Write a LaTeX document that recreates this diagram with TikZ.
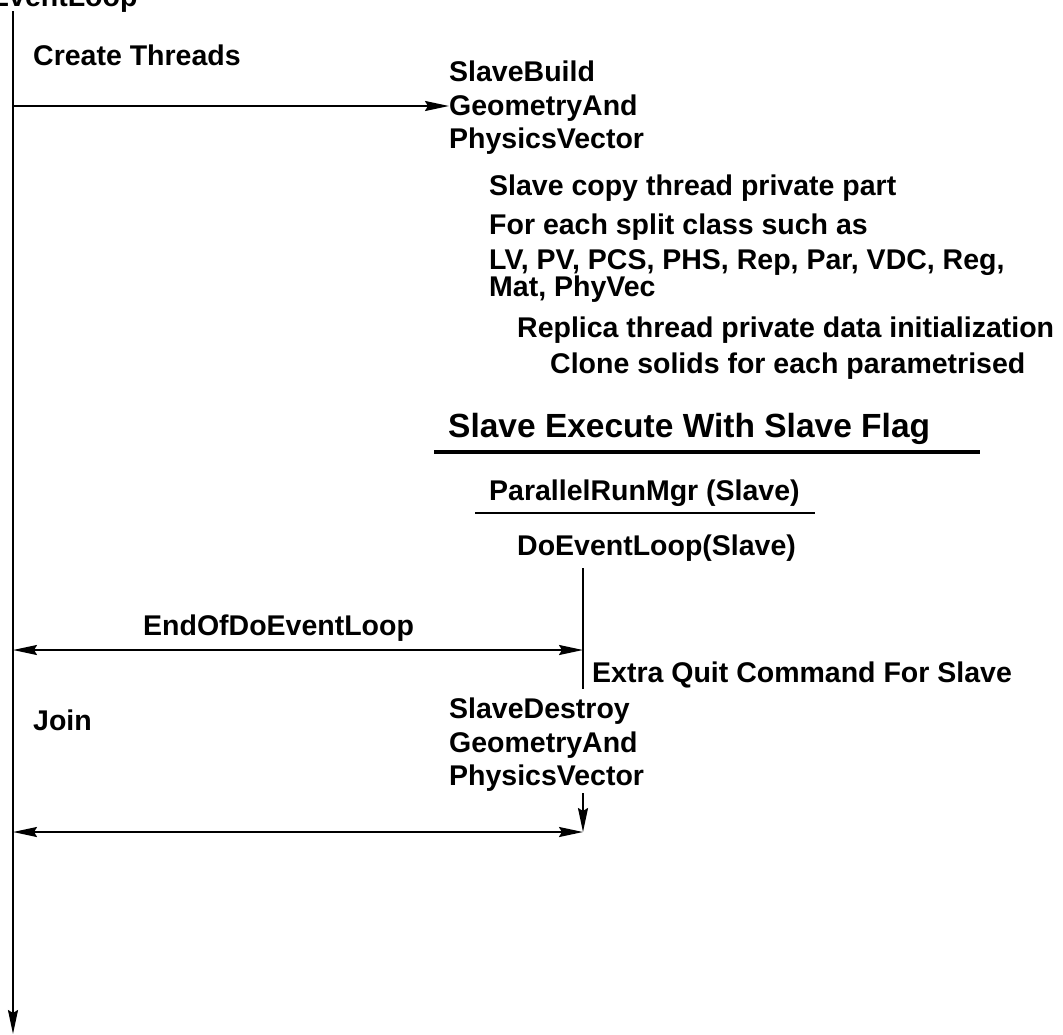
\documentclass[tikz,border=0pt]{standalone}
\usepackage{fontspec}
\setmainfont{Liberation Sans}
\usetikzlibrary{arrows.meta}
\tikzset{
  lbl/.style={font=\fontsize{28.5}{34}\selectfont\bfseries, anchor=base west, inner sep=0pt},
  biglbl/.style={lbl, font=\fontsize{33.5}{40}\selectfont\bfseries},
  flow/.style={line width=2pt},
  >={Stealth[length=24pt, width=10pt, inset=3pt]},
}

\begin{document}
\begin{tikzpicture}[x=1pt, y=-1pt]
    \clip (0,0) rectangle (1063,1034);
    % master side
    \node[lbl] (loop) at (-48,6) {DoEventLoop};
    \node[lbl] (create) at (33,65) {Create Threads};
    \node[lbl] (join) at (33,730) {Join};
    \node[lbl] (endloop) at (143,635) {EndOfDoEventLoop};
    % slave side
    \node[lbl] (bld1) at (449,81) {SlaveBuild};
    \node[lbl] (bld2) at (449,115) {GeometryAnd};
    \node[lbl] (bld3) at (449,148) {PhysicsVector};
    \node[lbl] (copy) at (489,195) {Slave copy thread private part};
    \node[lbl] (split) at (489,234) {For each split class such as};
    \node[lbl] (cls1) at (489,269) {LV, PV, PCS, PHS, Rep, Par, VDC, Reg,};
    \node[lbl] (cls2) at (489,296) {Mat, PhyVec};
    \node[lbl] (replica) at (517,337) {Replica thread private data initialization};
    \node[lbl] (clone) at (550,373) {Clone solids for each parametrised};
    \node[biglbl] (exec) at (448,437) {Slave Execute With Slave Flag};
    \node[lbl] (runmgr) at (489,500) {ParallelRunMgr (Slave)};
    \node[lbl] (sloop) at (517,555) {DoEventLoop(Slave)};
    \node[lbl] (quit) at (592,682) {Extra Quit Command For Slave};
    \node[lbl] (des1) at (449,718) {SlaveDestroy};
    \node[lbl] (des2) at (449,752) {GeometryAnd};
    \node[lbl] (des3) at (449,785) {PhysicsVector};
    \draw[line width=4pt] (434,452) -- (980,452);
    \draw[line width=2pt] (475,513) -- (815,513);
    % time lines
    \coordinate (mtop) at (13,11);
    \coordinate (mbot) at (13,1034);
    \coordinate (fork) at (13,106);
    \coordinate (stop) at (583,568);
    \coordinate (sbot) at (583,689);
    \coordinate (e1) at (13,650);
    \coordinate (e2) at (583,650);
    \coordinate (d1) at (583,793);
    \coordinate (d2) at (583,832);
    \coordinate (j1) at (13,832);
    \draw[flow, ->] (mtop) -- (mbot);
    \draw[line width=1.6pt] (stop) -- (sbot);
    \draw[flow, ->] (fork) -- (fork -| bld2.west);
    \draw[flow, <->] (e1) -- (e2);
    \draw[flow, ->] (d1) -- (d2);
    \draw[flow, <->] (j1) -- (d2);
\end{tikzpicture}
\end{document}
